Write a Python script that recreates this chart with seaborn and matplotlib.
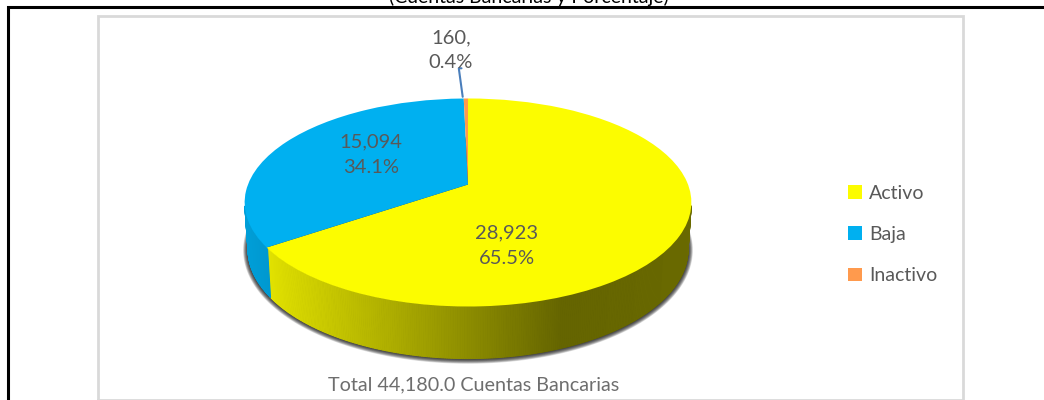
import numpy as np
import matplotlib
matplotlib.use("Agg")
import matplotlib.pyplot as plt
from matplotlib.transforms import Transform
import seaborn as sns

categories = ["Activo", "Baja", "Inactivo"]
values = [28923, 15094, 160]
percents = ["65.5%", "34.1%", "0.4%"]
count_labels = ["28,923", "15,094", "160,"]
title = "(Cuentas Bancarias y Porcentaje)"
footer = "Total 44,180.0 Cuentas Bancarias"

sns.set_theme(style="white")
plt.rcParams["font.family"] = ["Lato", "DejaVu Sans"]
palette = sns.color_palette(["#FCFC00", "#00B0F0", "#FF9A4D"])
TXT = "#595959"

# perspective of the tilted pie, in pixels of the canvas
CX, CY, D, A, C = 468.0, 184.5, 220.0, 100.9, 0.173


class Persp(Transform):
    input_dims = output_dims = 2
    is_affine = False
    has_inverse = False

    def __init__(self, sx=1.0, sy=1.0, dy=0.0):
        super().__init__()
        self.sx, self.sy, self.dy = sx, sy, dy

    def transform_non_affine(self, v):
        v = np.asarray(v, float)
        w = 1 + C * v[:, 1]
        return np.column_stack([CX + self.sx * D * v[:, 0] / w,
                                CY + self.dy - self.sy * A * v[:, 1] / w])


fig = plt.figure(figsize=(10.44, 4.0), dpi=100, facecolor="white")
ax = fig.add_axes([0, 0, 1, 1])

wedges, _ = ax.pie(values, colors=palette, startangle=90, counterclock=False,
                   radius=1.0, wedgeprops=dict(linewidth=0))
ax.set_aspect("auto")
ax.set_xlim(0, 1044)
ax.set_ylim(400, 0)
ax.axis("off")

top = Persp()
for w in wedges:
    w.set_transform(top + ax.transData)
    w.set_zorder(5)
    w.set_clip_on(False)

bottom_tf = Persp(sx=0.985, sy=1.05, dy=46)


def rim(tf, th):
    return tf.transform_non_affine(np.column_stack([np.cos(th), np.sin(th)]))


# soft shadow under the pie
ring = np.radians(np.linspace(0, 360, 361))
for s in np.linspace(1.04, 1.0, 12):
    pts = rim(Persp(sx=0.985 * (1 + (s - 1) * 0.55), sy=1.05 * s, dy=46), ring)
    ax.fill(pts[:, 0], pts[:, 1], color="#101010", alpha=0.13, lw=0, zorder=1)

# side wall, coloured strip by strip from the slices' own angles
YEL_X = [266, 563, 700]
YEL_R = [0.90, 0.40, 0.42]
for w, base in zip(wedges, palette):
    t1, t2 = sorted((w.theta1, w.theta2))
    t = np.radians(np.arange(t1, t2 + 0.5, 0.5))
    t = t[np.sin(t) < -0.2]
    for a, b in zip(t[:-1], t[1:]):
        seg = np.array([a, b])
        up = rim(top, seg)
        lo = rim(bottom_tf, seg)
        xm = up[:, 0].mean()
        if base == palette[0]:
            f = np.interp(xm, YEL_X, YEL_R)
        else:
            f = np.interp(xm, [245, 271], [0.90, 0.86])
        col = tuple(c * f for c in base)
        ax.fill([up[0, 0], up[1, 0], lo[1, 0], lo[0, 0]],
                [up[0, 1], up[1, 1], lo[1, 1], lo[0, 1]],
                facecolor=col, edgecolor=col, lw=0.7, zorder=2)

# frames
ax.plot([8, 8, 1044], [400, 7, 7], color="black", lw=2.2, zorder=0,
        solid_joinstyle="miter", clip_on=False)
ax.plot([97.5, 97.5, 963, 963, 97.5], [400, 16, 16, 400, 400], color="#D9D9D9",
        lw=2.0, zorder=0, solid_joinstyle="miter")

# leader line
ax.plot([462.7, 458.8, 461.5], [96.8, 68.3, 68.3], color="#4A7EBB", lw=1.5,
        zorder=6, solid_capstyle="round")

# texts
kw = dict(ha="center", va="center", color=TXT, fontsize=14.5, zorder=7)
ax.text(507, 232.5, count_labels[0], **kw)
ax.text(507, 258, percents[0], **kw)
ax.text(371, 141.5, count_labels[1], **kw)
ax.text(371, 167.5, percents[1], **kw)
ax.text(451, 37.5, count_labels[2], **kw)
ax.text(451, 62.5, percents[2], **kw)
ax.text(474, 384.5, footer, ha="center", va="center", color="#6E6E6E",
        fontsize=14.2, zorder=7)
ax.text(529, -3, title, ha="center", va="center", color="black",
        fontsize=14, zorder=7, clip_on=False)

leg = ax.legend(wedges, categories, loc="center left",
                bbox_to_anchor=(848 / 1044, 1 - 234.5 / 400),
                bbox_transform=fig.transFigure, frameon=False, fontsize=14,
                handlelength=0.7, handleheight=0.7, handletextpad=0.38,
                labelspacing=1.24, borderpad=0, borderaxespad=0,
                labelcolor=TXT)
for h in leg.get_patches():
    h.set_zorder(8)

fig.savefig("out.png", dpi=100, facecolor="white")
